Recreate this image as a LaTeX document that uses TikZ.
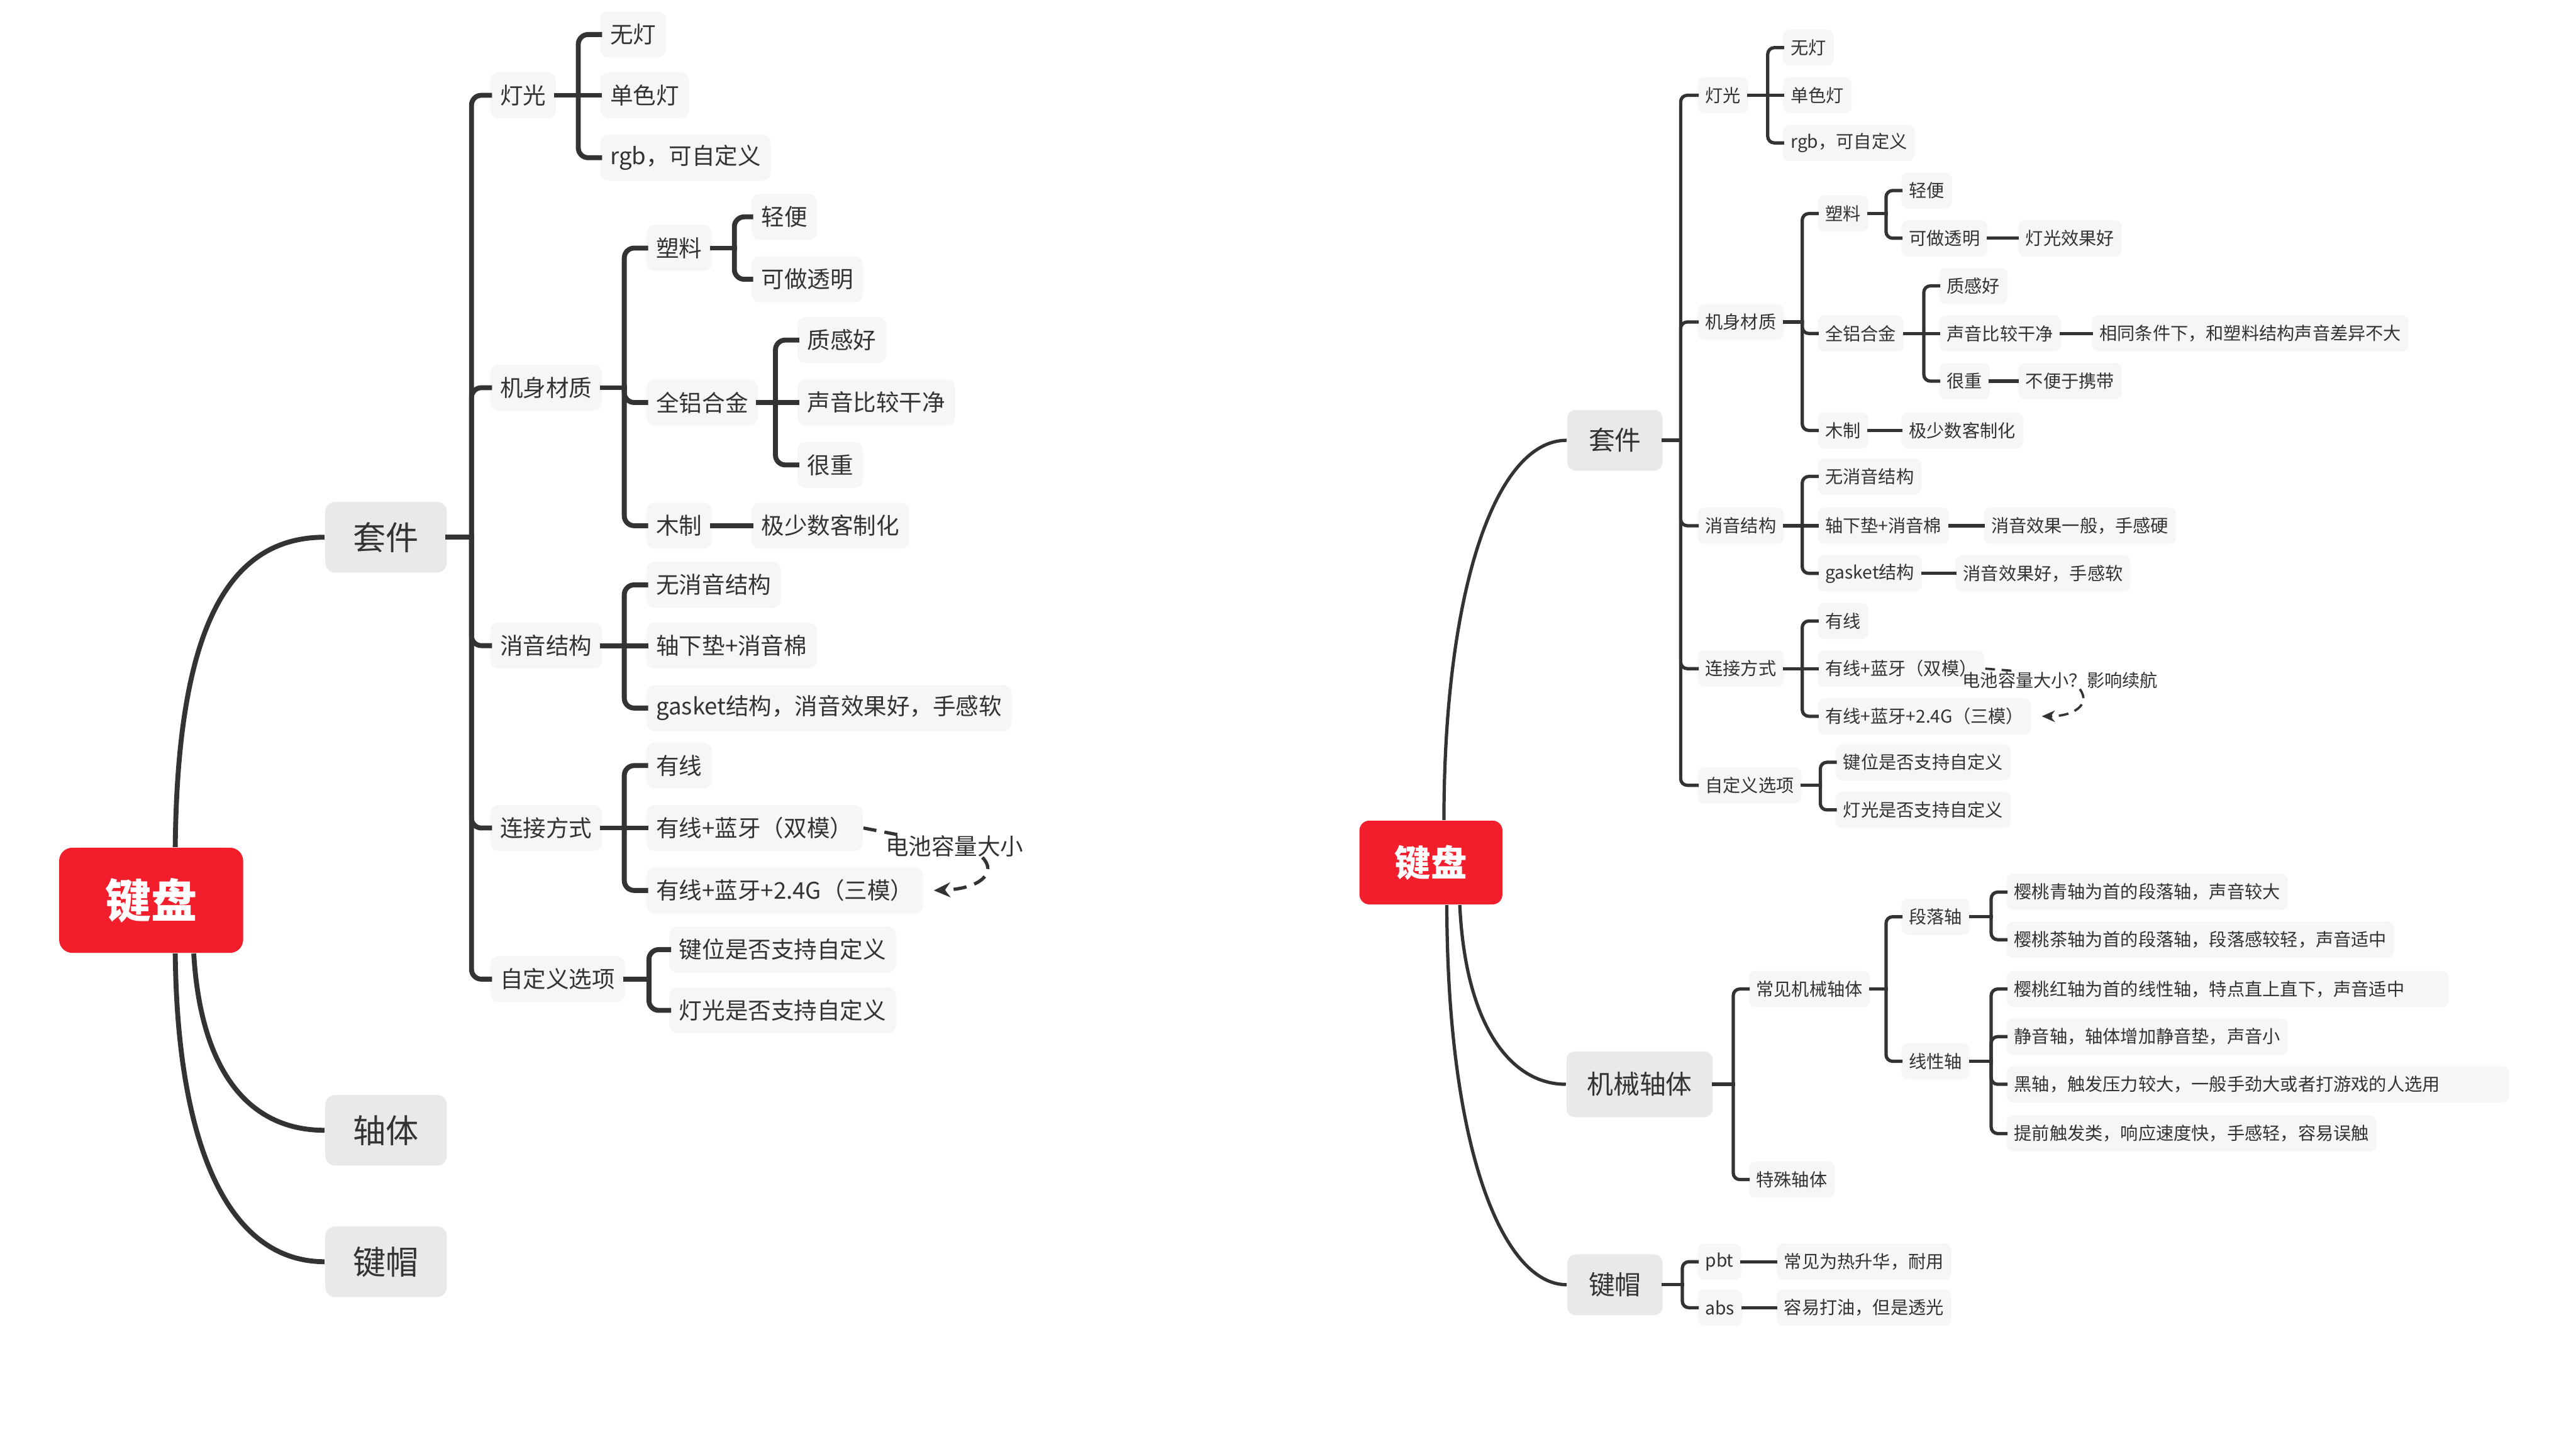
\documentclass[tikz,border=0pt]{standalone}
\usepackage{fontspec}
\setmainfont{Noto Sans CJK SC}
\usetikzlibrary{calc,arrows.meta}
\definecolor{txt}{HTML}{333333}
\definecolor{ln}{HTML}{333333}
\definecolor{leaf}{HTML}{F6F6F6}
\definecolor{topc}{HTML}{E9E9E9}
\definecolor{rootc}{HTML}{F31E2C}
\newcommand{\brk}[4]{%
  \draw[#1] (#2.east) -- ($(#2.east -| #3.west)+(-#4,0)$);
  \draw[#1] ($(#2.east -| #3.west)+(-#4,0)$) |- (#3.west);}
\newcommand{\lnk}[3]{\draw[#1] (#2.east) -- (#3.west);}
\tikzset{
  leafL/.style={fill=leaf, rounded corners=2.5pt, inner xsep=3pt, inner ysep=0pt,
    minimum height=14pt, font=\fontsize{7}{8}\selectfont, text=txt, anchor=west},
  leafR/.style={fill=leaf, rounded corners=2pt, inner xsep=2.3pt, inner ysep=0pt,
    minimum height=11pt, font=\fontsize{5.4}{6}\selectfont, text=txt, anchor=west},
  topL/.style={fill=topc, rounded corners=3pt, minimum width=37pt, minimum height=21.5pt,
    inner sep=0pt, font=\fontsize{10}{12}\selectfont, text=txt},
  topR/.style={fill=topc, rounded corners=2.5pt, minimum width=29pt, minimum height=18.5pt,
    inner sep=0pt, font=\fontsize{8}{10}\selectfont, text=txt},
  rootL/.style={fill=rootc, rounded corners=4pt, minimum width=56pt, minimum height=32pt,
    inner sep=0pt, font=\fontsize{14}{16}\selectfont\bfseries, text=white},
  rootR/.style={fill=rootc, rounded corners=3pt, minimum width=43.5pt, minimum height=25.5pt,
    inner sep=0pt, font=\fontsize{11}{13}\selectfont\bfseries, text=white},
  cL/.style={draw=ln, line width=1.5pt, line cap=rect, rounded corners=3pt},
  cR/.style={draw=ln, line width=1pt, line cap=rect, rounded corners=2pt},
  curveL/.style={draw=ln, line width=1.5pt},
  curveR/.style={draw=ln, line width=1pt},
  batL/.style={inner sep=0pt, font=\fontsize{7}{8}\selectfont, text=txt},
  batR/.style={inner sep=0pt, font=\fontsize{5.4}{6}\selectfont, text=txt},
  dashL/.style={draw=ln, line width=1pt, dash pattern=on 4pt off 2.5pt},
  dashR/.style={draw=ln, line width=0.7pt, dash pattern=on 3pt off 2pt},
}
\begin{document}
\begin{tikzpicture}[x=0.5pt, y=-0.5pt]
\useasboundingbox (0,0) rectangle (1568,882);
\fill[white] (0,0) rectangle (1568,882);

% ================= LEFT PANEL =================
\node[rootL] (rootL) at (92,548) {键盘};
\node[topL] (taoL) at (235,327) {套件};
\node[topL] (zhouL) at (235,688) {轴体};
\node[topL] (maoL) at (235,768) {键帽};

\node[leafL] (dengL) at (298,58) {灯光};
\node[leafL] (caiL) at (298,236) {机身材质};
\node[leafL] (xiaoL) at (298,393) {消音结构};
\node[leafL] (lianL) at (298,504) {连接方式};
\node[leafL] (ziL) at (298,596) {自定义选项};

\node[leafL] (d1L) at (365,21) {无灯};
\node[leafL] (d2L) at (365,58) {单色灯};
\node[leafL] (d3L) at (365,96) {rgb，可自定义};

\node[leafL] (suL) at (393,151) {塑料};
\node[leafL] (lvL) at (393,245) {全铝合金};
\node[leafL] (muL) at (393,320) {木制};
\node[leafL] (qbL) at (457,132) {轻便};
\node[leafL] (tmL) at (457,170) {可做透明};
\node[leafL] (zgL) at (485,207) {质感好};
\node[leafL] (syL) at (485,245) {声音比较干净};
\node[leafL] (hzL) at (485,283) {很重};
\node[leafL] (jsL) at (457,320) {极少数客制化};

\node[leafL] (x1L) at (393,356) {无消音结构};
\node[leafL] (x2L) at (393,393) {轴下垫+消音棉};
\node[leafL] (x3L) at (393,431) {gasket结构，消音效果好，手感软};

\node[leafL] (m1L) at (393,466) {有线};
\node[leafL] (m2L) at (393,504) {有线+蓝牙（双模）};
\node[leafL] (m3L) at (393,542) {有线+蓝牙+2.4G（三模）};

\node[leafL] (z1L) at (407,578) {键位是否支持自定义};
\node[leafL] (z2L) at (407,615) {灯光是否支持自定义};

\node[batL] (bL) at (581,515) {电池容量大小};

% curves from root
\draw[curveL] ($(rootL.north west)!0.63!(rootL.north east)$) .. controls (108,390) and (135,327) .. (taoL.west);
\draw[curveL] ($(rootL.south west)!0.73!(rootL.south east)$) .. controls (122,650) and (150,688) .. (zhouL.west);
\draw[curveL] ($(rootL.south west)!0.63!(rootL.south east)$) .. controls (108,700) and (140,768) .. (maoL.west);

% trunk of 套件
\brk{cL}{taoL}{dengL}{11}
\brk{cL}{taoL}{caiL}{11}
\brk{cL}{taoL}{xiaoL}{11}
\brk{cL}{taoL}{lianL}{11}
\brk{cL}{taoL}{ziL}{11}

\brk{cL}{dengL}{d1L}{13}
\lnk{cL}{dengL}{d2L}
\brk{cL}{dengL}{d3L}{13}

\brk{cL}{caiL}{suL}{13}
\brk{cL}{caiL}{lvL}{13}
\brk{cL}{caiL}{muL}{13}
\brk{cL}{suL}{qbL}{10}
\brk{cL}{suL}{tmL}{10}
\brk{cL}{lvL}{zgL}{13}
\lnk{cL}{lvL}{syL}
\brk{cL}{lvL}{hzL}{13}
\lnk{cL}{muL}{jsL}

\brk{cL}{xiaoL}{x1L}{13}
\lnk{cL}{xiaoL}{x2L}
\brk{cL}{xiaoL}{x3L}{13}

\brk{cL}{lianL}{m1L}{13}
\lnk{cL}{lianL}{m2L}
\brk{cL}{lianL}{m3L}{13}

\brk{cL}{ziL}{z1L}{12}
\brk{cL}{ziL}{z2L}{12}

\draw[dashL] (m2L.east) -- ($(bL.north west)+(8,0)$);
\draw[dashL, -{Stealth[length=5pt,width=4.5pt]}] ($(bL.south west)!0.7!(bL.south east)$) .. controls (607,531) and (597,541) .. ($(m3L.east)+(6,0)$);

% ================= RIGHT PANEL =================
\node[rootR] (rootR) at (871,525) {键盘};
\node[topR] (taoR) at (983,268) {套件};
\node[topR, minimum width=44.5pt, minimum height=20pt] (jxR) at (998,660) {机械轴体};
\node[topR] (maoR) at (983,782) {键帽};

\node[leafR] (dengR) at (1033,58) {灯光};
\node[leafR] (caiR) at (1033,196) {机身材质};
\node[leafR] (xiaoR) at (1033,320) {消音结构};
\node[leafR] (lianR) at (1033,407) {连接方式};
\node[leafR] (ziR) at (1033,478) {自定义选项};

\node[leafR] (d1R) at (1085,29) {无灯};
\node[leafR] (d2R) at (1085,58) {单色灯};
\node[leafR] (d3R) at (1085,87) {rgb，可自定义};

\node[leafR] (suR) at (1106,130) {塑料};
\node[leafR] (lvR) at (1106,203) {全铝合金};
\node[leafR] (muR) at (1106,262) {木制};
\node[leafR] (qbR) at (1157,116) {轻便};
\node[leafR] (tmR) at (1157,145) {可做透明};
\node[leafR] (gxR) at (1228,145) {灯光效果好};
\node[leafR] (zgR) at (1180,174) {质感好};
\node[leafR] (syR) at (1180,203) {声音比较干净};
\node[leafR] (xtR) at (1273,203) {相同条件下，和塑料结构声音差异不大};
\node[leafR] (hzR) at (1180,232) {很重};
\node[leafR] (bbR) at (1228,232) {不便于携带};
\node[leafR] (jsR) at (1157,262) {极少数客制化};

\node[leafR] (x1R) at (1106,290) {无消音结构};
\node[leafR] (x2R) at (1106,320) {轴下垫+消音棉};
\node[leafR] (x2bR) at (1207,320) {消音效果一般，手感硬};
\node[leafR] (x3R) at (1106,349) {gasket结构};
\node[leafR] (x3bR) at (1190,349) {消音效果好，手感软};

\node[leafR] (m1R) at (1106,378) {有线};
\node[leafR] (m2R) at (1106,407) {有线+蓝牙（双模）};
\node[leafR] (m3R) at (1106,436) {有线+蓝牙+2.4G（三模）};

\node[leafR] (z1R) at (1117,464) {键位是否支持自定义};
\node[leafR] (z2R) at (1117,493) {灯光是否支持自定义};

\node[batR] (bR) at (1254,414) {电池容量大小？影响续航};

\node[leafR] (cjR) at (1064,602) {常见机械轴体};
\node[leafR] (tsR) at (1064,718) {特殊轴体};
\node[leafR] (dlR) at (1157,558) {段落轴};
\node[leafR] (xxR) at (1157,646) {线性轴};
\node[leafR] (q1R) at (1221,543) {樱桃青轴为首的段落轴，声音较大};
\node[leafR] (q2R) at (1221,572) {樱桃茶轴为首的段落轴，段落感较轻，声音适中};
\node[leafR, minimum width=134.5pt, text width=130pt] (l1R) at (1221,602) {樱桃红轴为首的线性轴，特点直上直下，声音适中};
\node[leafR] (l2R) at (1221,631) {静音轴，轴体增加静音垫，声音小};
\node[leafR, minimum width=153pt, text width=148.4pt] (l3R) at (1221,660) {黑轴，触发压力较大，一般手劲大或者打游戏的人选用};
\node[leafR] (l4R) at (1221,690) {提前触发类，响应速度快，手感轻，容易误触};

\node[leafR] (pbtR) at (1033,768) {pbt};
\node[leafR] (pbR2) at (1081,768) {常见为热升华，耐用};
\node[leafR] (absR) at (1033,796) {abs};
\node[leafR] (abR2) at (1081,796) {容易打油，但是透光};

% curves from root
\draw[curveR] ($(rootR.north west)!0.59!(rootR.north east)$) .. controls (879,360) and (910,268) .. (taoR.west);
\draw[curveR] ($(rootR.south west)!0.70!(rootR.south east)$) .. controls (892,625) and (920,660) .. (jxR.west);
\draw[curveR] ($(rootR.south west)!0.61!(rootR.south east)$) .. controls (881,700) and (915,782) .. (maoR.west);

\brk{cR}{taoR}{dengR}{10}
\brk{cR}{taoR}{caiR}{10}
\brk{cR}{taoR}{xiaoR}{10}
\brk{cR}{taoR}{lianR}{10}
\brk{cR}{taoR}{ziR}{10}

\brk{cR}{dengR}{d1R}{9}
\lnk{cR}{dengR}{d2R}
\brk{cR}{dengR}{d3R}{9}

\brk{cR}{caiR}{suR}{9}
\brk{cR}{caiR}{lvR}{9}
\brk{cR}{caiR}{muR}{9}
\brk{cR}{suR}{qbR}{9}
\brk{cR}{suR}{tmR}{9}
\lnk{cR}{tmR}{gxR}
\brk{cR}{lvR}{zgR}{9}
\lnk{cR}{lvR}{syR}
\brk{cR}{lvR}{hzR}{9}
\lnk{cR}{syR}{xtR}
\lnk{cR}{hzR}{bbR}
\lnk{cR}{muR}{jsR}

\brk{cR}{xiaoR}{x1R}{9}
\lnk{cR}{xiaoR}{x2R}
\brk{cR}{xiaoR}{x3R}{9}
\lnk{cR}{x2R}{x2bR}
\lnk{cR}{x3R}{x3bR}

\brk{cR}{lianR}{m1R}{9}
\lnk{cR}{lianR}{m2R}
\brk{cR}{lianR}{m3R}{9}

\brk{cR}{ziR}{z1R}{9}
\brk{cR}{ziR}{z2R}{9}

\brk{cR}{jxR}{cjR}{9}
\brk{cR}{jxR}{tsR}{9}
\brk{cR}{cjR}{dlR}{9}
\brk{cR}{cjR}{xxR}{9}
\brk{cR}{dlR}{q1R}{9}
\brk{cR}{dlR}{q2R}{9}
\brk{cR}{xxR}{l1R}{9}
\brk{cR}{xxR}{l2R}{9}
\brk{cR}{xxR}{l3R}{9}
\brk{cR}{xxR}{l4R}{9}

\brk{cR}{maoR}{pbtR}{9}
\brk{cR}{maoR}{absR}{9}
\lnk{cR}{pbtR}{pbR2}
\lnk{cR}{absR}{abR2}

\draw[dashR] (m2R.east) -- ($(bR.north west)!0.28!(bR.north east)$);
\draw[dashR, -{Stealth[length=4pt,width=3.5pt]}] ($(bR.south west)!0.6!(bR.south east)$) .. controls (1273,429) and (1262,436) .. ($(m3R.east)+(6,0)$);
\end{tikzpicture}
\end{document}
